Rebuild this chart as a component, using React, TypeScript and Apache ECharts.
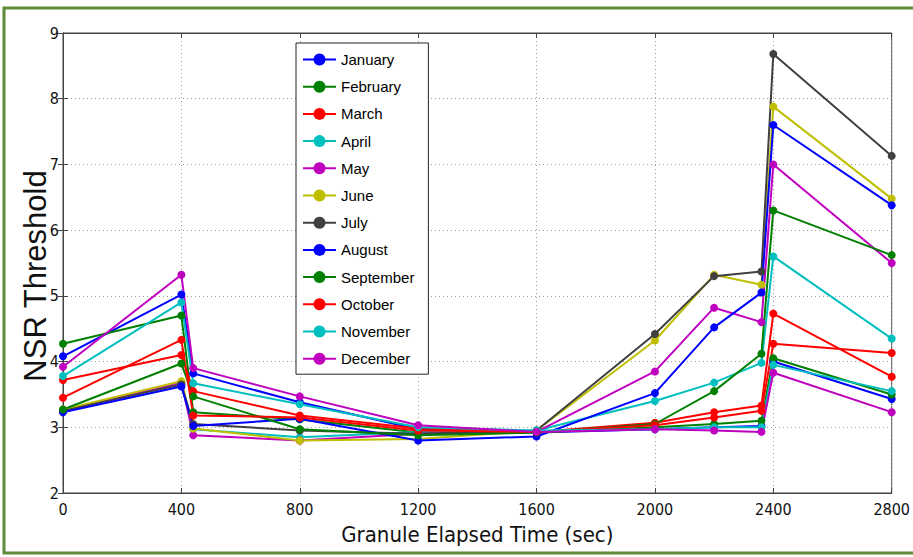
import React, { useEffect, useRef } from "react";
import * as echarts from "echarts";

const times = [0, 400, 440, 800, 1200, 1600, 2000, 2200, 2360, 2400, 2800];
const months = ["January", "February", "March", "April", "May", "June", "July", "August", "September", "October", "November", "December"];
const colors = ["#0000ff", "#008000", "#ff0000", "#00bfbf", "#bf00bf", "#bfbf00", "#404040", "#0000ff", "#008000", "#ff0000", "#00bfbf", "#bf00bf"];

const january = [4.08, 5.02, 3.82, 3.38, 2.97, 2.92, 2.97, 3.0, 3.02, 4.0, 3.43];
const february = [4.27, 4.7, 3.23, 3.12, 2.92, 2.92, 3.0, 3.05, 3.1, 4.05, 3.5];
const march = [3.72, 4.1, 3.55, 3.18, 2.98, 2.93, 3.07, 3.23, 3.33, 4.73, 3.77];
const april = [3.25, 3.68, 2.97, 2.85, 2.93, 2.95, 3.4, 3.68, 3.98, 5.6, 4.35];
const may = [3.25, 3.68, 2.88, 2.8, 2.9, 2.93, 3.85, 4.82, 4.6, 7.0, 5.5];
const june = [3.27, 3.7, 2.98, 2.8, 2.82, 2.95, 4.32, 5.32, 5.17, 7.88, 6.48];
const july = [3.25, 3.65, 3.05, 2.95, 2.9, 2.95, 4.42, 5.3, 5.37, 8.68, 7.13];
const august = [3.23, 3.62, 3.02, 3.13, 2.8, 2.86, 3.52, 4.52, 5.05, 7.6, 6.38];
const september = [3.27, 3.97, 3.47, 2.97, 2.88, 2.92, 3.05, 3.55, 4.12, 6.3, 5.62];
const october = [3.45, 4.33, 3.18, 3.15, 2.95, 2.93, 3.03, 3.15, 3.25, 4.27, 4.13];
const november = [3.78, 4.9, 3.67, 3.35, 3.0, 2.95, 2.97, 3.0, 3.0, 3.95, 3.55];
const december = [3.92, 5.32, 3.9, 3.47, 3.03, 2.93, 2.97, 2.95, 2.93, 3.83, 3.23];

const values = [january, february, march, april, may, june, july, august, september, october, november, december];

const narrow = "'DejaVu Sans Condensed', 'Liberation Sans Narrow', 'Arial Narrow', 'Liberation Sans', Arial, sans-serif";
const sans = "'Liberation Sans', Arial, sans-serif";

export default function App() {
  const ref = useRef<HTMLDivElement>(null);
  useEffect(() => {
    if (!ref.current) return;
    document.documentElement.style.overflow = "hidden";
    document.body.style.margin = "0";
    document.body.style.overflow = "hidden";
    const chart = echarts.init(ref.current, null, { renderer: "svg", width: 913, height: 557 });
    const gridLine = { show: true, lineStyle: { color: "#9a9a9a", type: [1, 3] as any, width: 1 } };
    chart.setOption({
      animation: false,
      backgroundColor: "#ffffff",
      grid: { left: 63, right: 14, top: 33, bottom: 64, show: true, borderColor: "#444", borderWidth: 1, backgroundColor: "transparent" },
      graphic: [
        {
          type: "rect",
          shape: { x: 4, y: 8, width: 930, height: 545 },
          style: { fill: "none", stroke: "#5e8c3a", lineWidth: 3 },
          silent: true,
        },
        {
          type: "text",
          x: 35,
          y: 276,
          rotation: Math.PI / 2,
          style: {
            text: "NSR Threshold",
            fontFamily: sans,
            fontSize: 31,
            fill: "#111",
            align: "center",
            verticalAlign: "middle",
          },
          silent: true,
        },
      ],
      legend: {
        orient: "vertical",
        left: 296,
        top: 43,
        padding: [9, 14, 8, 6],
        itemGap: 12.2,
        itemWidth: 33,
        itemHeight: 15,
        backgroundColor: "#ffffff",
        borderColor: "#222",
        borderWidth: 1,
        textStyle: { fontFamily: sans, fontSize: 15, color: "#000" },
        data: months,
      },
      xAxis: [
        {
          type: "value",
          min: 0,
          max: 2800,
          interval: 400,
          name: "Granule Elapsed Time (sec)",
          nameLocation: "middle",
          nameGap: 30,
          nameTextStyle: { fontFamily: narrow, fontSize: 22, color: "#111" },
          axisLine: { show: true, onZero: false, lineStyle: { color: "#444" } },
          axisTick: { show: true, inside: true, length: 5, lineStyle: { color: "#444" } },
          axisLabel: { fontFamily: narrow, fontSize: 16, color: "#111", margin: 8, formatter: (v: number) => String(v) },
          splitLine: gridLine,
        },
        {
          type: "value",
          position: "top",
          min: 0,
          max: 2800,
          interval: 400,
          axisLine: { show: true, lineStyle: { color: "#444" } },
          axisTick: { show: true, inside: true, length: 5, lineStyle: { color: "#444" } },
          axisLabel: { show: false },
          splitLine: { show: false },
        },
      ],
      yAxis: [
        {
          type: "value",
          min: 2,
          max: 9,
          interval: 1,
          axisLine: { show: true, onZero: false, lineStyle: { color: "#444" } },
          axisTick: { show: true, inside: true, length: 5, lineStyle: { color: "#444" } },
          axisLabel: { fontFamily: narrow, fontSize: 16, color: "#111", margin: 4, formatter: (v: number) => String(v) },
          splitLine: gridLine,
        },
        {
          type: "value",
          position: "right",
          min: 2,
          max: 9,
          interval: 1,
          axisLine: { show: true, lineStyle: { color: "#444" } },
          axisTick: { show: true, inside: true, length: 5, lineStyle: { color: "#444" } },
          axisLabel: { show: false },
          splitLine: { show: false },
        },
      ],
      series: months.map((m, i) => ({
        name: m,
        type: "line",
        xAxisIndex: 0,
        yAxisIndex: 0,
        data: times.map((t, j) => [t, values[i][j]]),
        symbol: "circle",
        symbolSize: 8,
        lineStyle: { color: colors[i], width: 2 },
        itemStyle: { color: colors[i] },
        color: colors[i],
      })),
    });
    return () => chart.dispose();
  }, []);
  return <div ref={ref} style={{ position: "fixed", left: 0, top: 0, width: 913, height: 557 }} />;
}
